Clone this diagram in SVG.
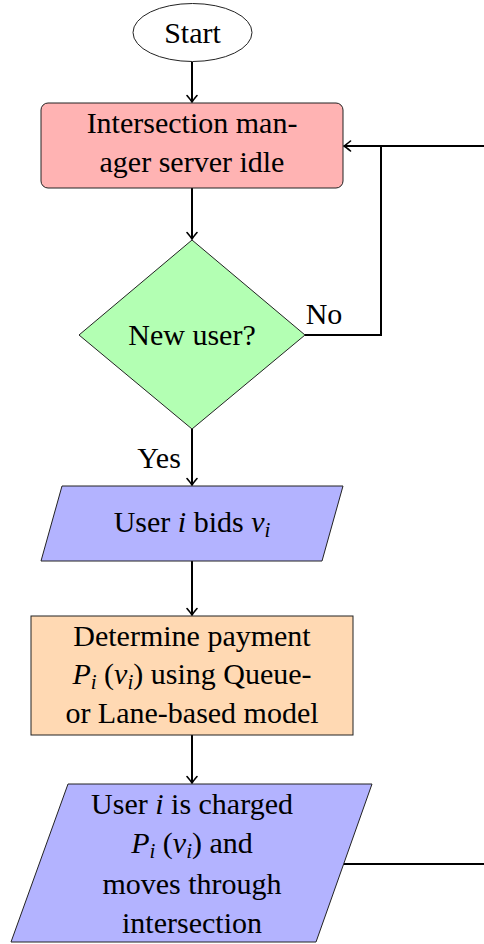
<svg xmlns="http://www.w3.org/2000/svg" width="484" height="944" viewBox="0 0 484 944">
<defs>
<marker id="arr" markerUnits="userSpaceOnUse" viewBox="-8 -6 10 12" refX="0" refY="0" markerWidth="10" markerHeight="12" orient="auto">
<path d="M-6.5,-5 Q-2,-1.2 0,0 Q-2,1.2 -6.5,5" fill="none" stroke="#000" stroke-width="1.6" stroke-linecap="round"/>
</marker>
<style>
text{font-family:'Liberation Serif','DejaVu Serif',serif;font-size:30px;fill:#000;text-anchor:middle}
.m{font-style:italic}
.s{font-size:21px;font-style:italic}
.node{stroke:#222;stroke-width:1}
.c{fill:none;stroke:#000;stroke-width:2}
</style>
</defs>
<rect width="484" height="944" fill="#fff"/>
<g id="connectors">
<line class="c" x1="192" y1="62" x2="192" y2="102" marker-end="url(#arr)"/>
<line class="c" x1="192" y1="188" x2="192" y2="239" marker-end="url(#arr)"/>
<line class="c" x1="192" y1="429" x2="192" y2="485" marker-end="url(#arr)"/>
<line class="c" x1="192" y1="561" x2="192" y2="615" marker-end="url(#arr)"/>
<line class="c" x1="192" y1="735" x2="192" y2="783" marker-end="url(#arr)"/>
<polyline class="c" points="305,335 381,335 381,146 344,146" marker-end="url(#arr)"/>
<polyline class="c" points="343.5,864 500,864 500,146 381,146"/>
<text x="324" y="324" font-family="Liberation Serif, serif">No</text>
<text x="159" y="468" font-family="Liberation Serif, serif">Yes</text>
</g>
<g id="start">
<ellipse class="node" cx="192.5" cy="32.5" rx="59.5" ry="29" fill="#fff"/>
<text x="192.5" y="43">Start</text>
</g>
<g id="idle">
<rect class="node" x="41" y="103" width="302" height="85" rx="7" fill="#ffb3b3"/>
<text x="192" y="133">Intersection man-</text>
<text x="192" y="172">ager server idle</text>
</g>
<g id="decision">
<polygon class="node" points="192,240 305,335 192,429 79,335" fill="#b3ffb3"/>
<text x="192" y="345">New user?</text>
</g>
<g id="bid">
<polygon class="node" points="62,486 343,486 322,561 41,561" fill="#b3b3ff"/>
<text x="192" y="532">User <tspan class="m">i</tspan> bids <tspan class="m">v</tspan><tspan class="s" dy="5">i</tspan></text>
</g>
<g id="payment">
<rect class="node" x="31" y="616" width="322" height="119" fill="#ffd9b3"/>
<text x="192" y="646">Determine payment</text>
<text x="192" y="684"><tspan class="m">P</tspan><tspan class="s" dy="5">i</tspan><tspan dy="-5"> (</tspan><tspan class="m">v</tspan><tspan class="s" dy="5">i</tspan><tspan dy="-5">) using Queue-</tspan></text>
<text x="192" y="723">or Lane-based model</text>
</g>
<g id="charged">
<polygon class="node" points="68,784 372,784 316,942 11,942" fill="#b3b3ff"/>
<text x="192" y="814">User <tspan class="m">i</tspan> is charged</text>
<text x="192" y="853"><tspan class="m">P</tspan><tspan class="s" dy="5">i</tspan><tspan dy="-5"> (</tspan><tspan class="m">v</tspan><tspan class="s" dy="5">i</tspan><tspan dy="-5">) and</tspan></text>
<text x="192" y="894">moves through</text>
<text x="192" y="933">intersection</text>
</g>
</svg>
